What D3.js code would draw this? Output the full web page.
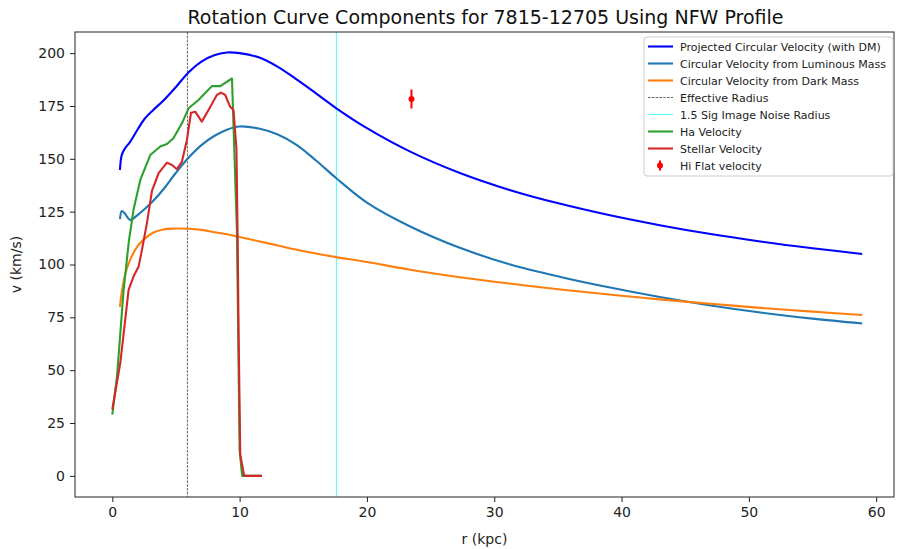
<!DOCTYPE html>
<html>
<head>
<meta charset="utf-8">
<script src="https://cdn.jsdelivr.net/npm/d3@7"></script>
<style>
  body { margin: 0; background: #fff; }
  svg { font-family: 'DejaVu Sans', sans-serif; }
</style>
</head>
<body>
<svg id="chart" width="897" height="549"></svg>
<script>
// radius grid shared by the three model curves (kpc)
const rModel = [0.6, 0.75, 1.0, 1.4, 2.0, 2.5, 3.2, 4.0, 5.0, 6.0, 7.0, 8.0, 9.0, 10.0, 11.5,
  13, 14.5, 16, 17.6, 20, 23.4, 27.3, 31.2, 35.2, 39, 43, 47, 50.9, 55, 58.9];
const vProjected = [144.7, 152, 155, 158, 164, 168.6, 173, 177.5, 184, 191, 196, 199, 200.3, 200, 198,
  193.5, 187.5, 181, 173.9, 164.5, 153.4, 143.3, 135.3, 128.7, 123.4, 118.6, 114.4, 110.9, 107.7, 105.0];
const vLuminous = [121.5, 125.3, 124, 121.1, 123.5, 126, 130, 135.5, 143.4, 150.6, 156.5, 160.8, 163.8, 165.3, 164.3,
  161.5, 156.5, 149.2, 140.8, 129.3, 118, 107.9, 100.1, 94.1, 89.2, 84.6, 80.6, 77.3, 74.4, 72.1];
const vDark = [79.9, 87, 95, 102.2, 108.8, 112, 115, 116.6, 117, 116.9, 116.4, 115.3, 114.3, 113, 111,
  109, 107, 105.2, 103.5, 101.2, 97.5, 94.0, 91.0, 88.2, 85.8, 83.5, 81.4, 79.5, 77.7, 76.1];

// measured curves
const rHa = [0, 0.37, 0.89, 1.3, 1.67, 2.2, 2.98, 3.77, 4.29, 4.8, 5.47, 5.99, 6.77, 7.82, 8.48, 9.4, 9.79, 10.0, 10.2, 11.75];
const vHa = [29, 47.1, 88, 111, 126, 140, 151.8, 155.8, 157, 159.7, 166.8, 173.9, 177.8, 184.4, 184.4, 188, 116, 12, 0, 0];
const rStellar = [0, 0.63, 1.28, 1.67, 2.07, 2.33, 2.72, 3.12, 3.64, 4.29, 4.69, 5.08, 5.47, 5.86, 6.18, 6.51,
  7.03, 7.56, 8.21, 8.53, 8.87, 9.26, 9.52, 9.75, 9.85, 9.92, 10.05, 10.36, 11.75];
const vStellar = [31.4, 53.5, 88, 94.4, 99.1, 107, 119.6, 135, 143.2, 148.2, 147.1, 145.1, 148.7, 158.9, 171.8, 172.3,
  167.6, 173.1, 180.2, 181.3, 180.2, 174.6, 173.1, 155, 110, 68, 10, 0, 0];

// HI flat velocity point
const hiR = [23.5];
const hiV = [178.3];
const hiErr = [4.5];

const effectiveRadius = 5.9;
const noiseRadius = 17.6;

const xTicks = [0, 10, 20, 30, 40, 50, 60];
const yTicks = [0, 25, 50, 75, 100, 125, 150, 175, 200];

const margin = { top: 32, right: 3, bottom: 52, left: 75 };
const W = 897, H = 549;
const width = W - margin.left - margin.right;
const height = H - margin.top - margin.bottom;

const svg = d3.select('#chart');
const chart = svg.append('g').attr('transform', `translate(${margin.left},${margin.top})`);

const x = d3.scaleLinear().domain([-2.93, 61.4]).range([0, width]);
const y = d3.scaleLinear().domain([-10, 210]).range([height, 0]);

const zip = (rs, vs) => rs.map((r, i) => [r, vs[i]]);
const smooth = d3.line().x(d => x(d[0])).y(d => y(d[1])).curve(d3.curveCatmullRom.alpha(0.5));
const straight = d3.line().x(d => x(d[0])).y(d => y(d[1]));

// reference lines
chart.append('line')
  .attr('x1', x(effectiveRadius)).attr('x2', x(effectiveRadius))
  .attr('y1', 0).attr('y2', height)
  .attr('stroke', '#222').attr('stroke-width', 0.7).attr('stroke-dasharray', '2.6,1.2');
chart.append('line')
  .attr('x1', x(noiseRadius)).attr('x2', x(noiseRadius))
  .attr('y1', 0).attr('y2', height)
  .attr('stroke', '#55ffff').attr('stroke-width', 1.1);

const series = [
  { label: 'Projected Circular Velocity (with DM)', color: '#0000ff', data: zip(rModel, vProjected), line: smooth },
  { label: 'Circular Velocity from Luminous Mass', color: '#1f77b4', data: zip(rModel, vLuminous), line: smooth },
  { label: 'Circular Velocity from Dark Mass', color: '#ff7f0e', data: zip(rModel, vDark), line: smooth },
  { label: 'Ha Velocity', color: '#2ca02c', data: zip(rHa, vHa), line: straight },
  { label: 'Stellar Velocity', color: '#d62728', data: zip(rStellar, vStellar), line: straight },
];

series.forEach(s => {
  chart.append('path')
    .attr('d', s.line(s.data))
    .attr('fill', 'none')
    .attr('stroke', s.color)
    .attr('stroke-width', 2.1)
    .attr('stroke-linejoin', 'round');
});

// HI point with error bar
const hi = chart.append('g');
hiR.forEach((r, i) => {
  hi.append('line')
    .attr('x1', x(r)).attr('x2', x(r))
    .attr('y1', y(hiV[i] - hiErr[i])).attr('y2', y(hiV[i] + hiErr[i]))
    .attr('stroke', '#ff0000').attr('stroke-width', 2);
  hi.append('circle').attr('cx', x(r)).attr('cy', y(hiV[i])).attr('r', 3).attr('fill', '#ff0000');
});

// axes
const xAxis = d3.axisBottom(x).tickValues(xTicks).tickSize(5).tickPadding(5).tickSizeOuter(0);
const yAxis = d3.axisLeft(y).tickValues(yTicks).tickSize(5).tickPadding(5).tickSizeOuter(0);

const xAxisG = chart.append('g').attr('transform', `translate(0,${height})`).call(xAxis);
const yAxisG = chart.append('g').call(yAxis);
[xAxisG, yAxisG].forEach(g => {
  g.select('.domain').remove();
  g.selectAll('text').attr('font-size', 14).attr('fill', '#222').attr('font-family', 'DejaVu Sans, sans-serif');
  g.selectAll('line').attr('stroke', '#222');
});

chart.append('rect')
  .attr('x', 0).attr('y', 0).attr('width', width).attr('height', height)
  .attr('fill', 'none').attr('stroke', '#222').attr('stroke-width', 1);

// titles
svg.append('text')
  .attr('x', margin.left + width / 2 + 1).attr('y', 24)
  .attr('text-anchor', 'middle').attr('font-size', 19).attr('fill', '#111')
  .text('Rotation Curve Components for 7815-12705 Using NFW Profile');
svg.append('text')
  .attr('x', margin.left + width / 2).attr('y', 544)
  .attr('text-anchor', 'middle').attr('font-size', 14).attr('fill', '#222')
  .text('r (kpc)');
svg.append('text')
  .attr('transform', `translate(21,${margin.top + height / 2}) rotate(-90)`)
  .attr('text-anchor', 'middle').attr('font-size', 14).attr('fill', '#222')
  .text('v (km/s)');

// legend
const legend = svg.append('g').attr('transform', 'translate(644,37)');
legend.append('rect')
  .attr('width', 249).attr('height', 139).attr('rx', 3)
  .attr('fill', '#fff').attr('fill-opacity', 0.8)
  .attr('stroke', '#ccc').attr('stroke-width', 1);

const legendItems = [
  { label: series[0].label, color: series[0].color, kind: 'line' },
  { label: series[1].label, color: series[1].color, kind: 'line' },
  { label: series[2].label, color: series[2].color, kind: 'line' },
  { label: 'Effective Radius', color: '#222', kind: 'dash' },
  { label: '1.5 Sig Image Noise Radius', color: '#55ffff', kind: 'thin' },
  { label: series[3].label, color: series[3].color, kind: 'line' },
  { label: series[4].label, color: series[4].color, kind: 'line' },
  { label: 'Hi Flat velocity', color: '#ff0000', kind: 'point' },
];

legendItems.forEach((d, i) => {
  const g = legend.append('g').attr('transform', `translate(0,${9.5 + i * 17})`);
  if (d.kind === 'point') {
    g.append('line').attr('x1', 16).attr('x2', 16).attr('y1', -5).attr('y2', 5)
      .attr('stroke', d.color).attr('stroke-width', 2);
    g.append('circle').attr('cx', 16).attr('cy', 0).attr('r', 3).attr('fill', d.color);
  } else {
    g.append('line').attr('x1', 4).attr('x2', 29).attr('y1', 0).attr('y2', 0)
      .attr('stroke', d.color)
      .attr('stroke-width', d.kind === 'line' ? 2.1 : d.kind === 'dash' ? 0.7 : 1.1)
      .attr('stroke-dasharray', d.kind === 'dash' ? '2.6,1.2' : null);
  }
  g.append('text').attr('x', 36).attr('y', 4).attr('font-size', 11).attr('fill', '#222').text(d.label);
});
</script>
</body>
</html>
